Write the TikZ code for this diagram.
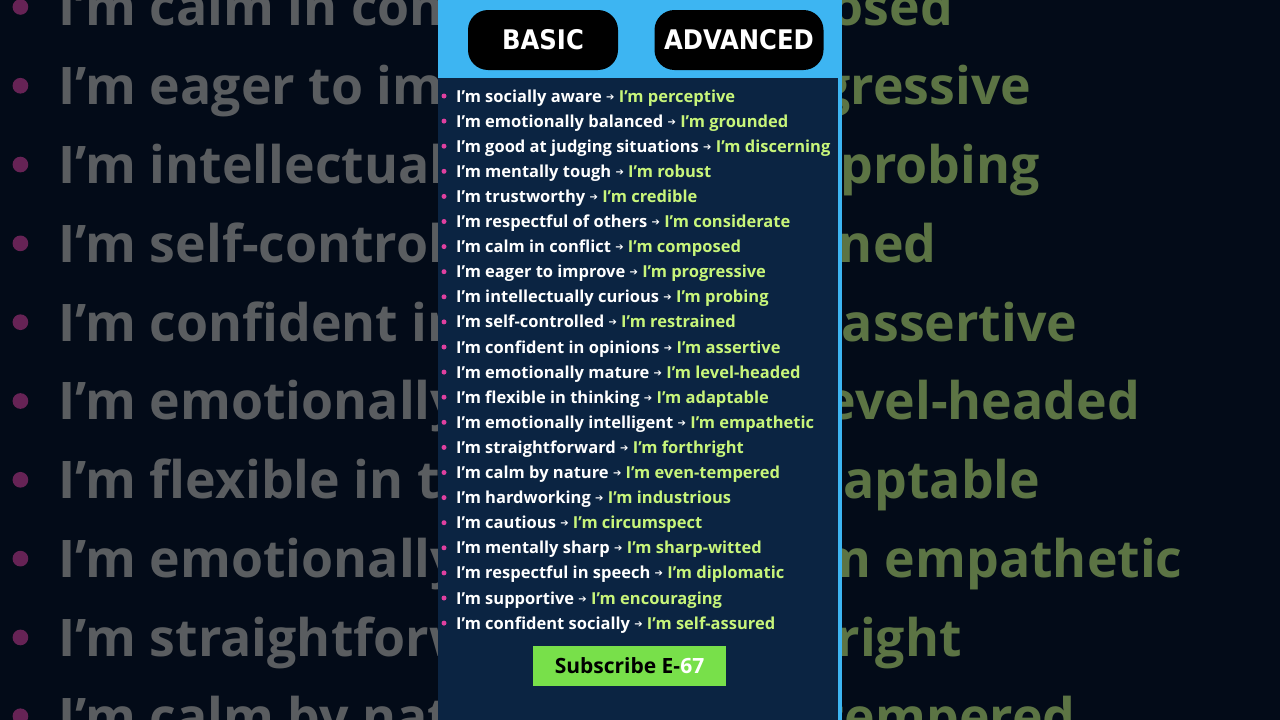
\documentclass[tikz,border=0pt]{standalone}
\usepackage{fontspec}
\setmainfont{Open Sans}
\newfontfamily\headfont{DejaVu Sans Condensed}
\newfontfamily\arrfont{DejaVu Sans}
\definecolor{bgdark}{HTML}{030B18}
\definecolor{navy}{HTML}{0B2442}
\definecolor{skyblue}{HTML}{3DB5F2}
\definecolor{pinkdot}{HTML}{E040A0}
\definecolor{advgreen}{HTML}{C8F57A}
\definecolor{subgreen}{HTML}{78E04A}
\tikzset{
  row/.style={anchor=base west, inner sep=0pt, font=\bfseries\fontsize{16.5}{18}\selectfont},
  dot/.style={circle, fill=#1, inner sep=0pt, minimum size=5pt},
  pill/.style={rounded corners=20pt, fill=black, minimum height=60pt,
    text=white, font=\headfont\bfseries\fontsize{27}{30}\selectfont}
}
% the list, in colours #1 (basic), #2 (advanced), #3 (bullet)
\newcommand\wordlist[4]{%
  \foreach \b/\a [count=\i] in {%
    {I’m socially aware}/{I’m perceptive},
    {I’m emotionally balanced}/{I’m grounded},
    {I’m good at judging situations}/{I’m discerning},
    {I’m mentally tough}/{I’m robust},
    {I’m trustworthy}/{I’m credible},
    {I’m respectful of others}/{I’m considerate},
    {I’m calm in conflict}/{I’m composed},
    {I’m eager to improve}/{I’m progressive},
    {I’m intellectually curious}/{I’m probing},
    {I’m self-controlled}/{I’m restrained},
    {I’m confident in opinions}/{I’m assertive},
    {I’m emotionally mature}/{I’m level-headed},
    {I’m flexible in thinking}/{I’m adaptable},
    {I’m emotionally intelligent}/{I’m empathetic},
    {I’m straightforward}/{I’m forthright},
    {I’m calm by nature}/{I’m even-tempered},
    {I’m hardworking}/{I’m industrious},
    {I’m cautious}/{I’m circumspect},
    {I’m mentally sharp}/{I’m sharp-witted},
    {I’m respectful in speech}/{I’m diplomatic},
    {I’m supportive}/{I’m encouraging},
    {I’m confident socially}/{I’m self-assured}}{
    \node[dot=#3] (#4b\i) at (444pt,{-96pt-(\i-1)*25.1pt}) {};
    \node[row] (#4r\i) at (456pt,{-102pt-(\i-1)*25.1pt})
      {\color{#1}\b~\raisebox{2pt}{\arrfont\fontsize{10}{10}\selectfont➔}~\color{#2}\a};
  }%
}
\begin{document}
\begin{tikzpicture}
  \useasboundingbox (0pt,0pt) rectangle (1280pt,-720pt);
  \fill[bgdark] (0pt,0pt) rectangle (1280pt,-720pt);

  % enlarged copy behind
  \begin{scope}
  \clip (0pt,0pt) rectangle (1280pt,-720pt);
  \begin{scope}[shift={(-1373.75pt,767.4pt)}, scale=3.14, transform shape]
    \wordlist{gray!70!bgdark}{advgreen!45!bgdark}{pinkdot!45!bgdark}{bg}
  \end{scope}
  \end{scope}

  % panel
  \fill[navy] (438pt,-78pt) rectangle (838pt,-720pt);
  \fill[skyblue] (838pt,-78pt) rectangle (842pt,-720pt);
  \fill[skyblue] (438pt,0pt) rectangle (842pt,-78pt);
  \node[pill, minimum width=150pt] (basic) at (543pt,-40pt) {BASIC};
  \node[pill, minimum width=169pt] (advanced) at (739pt,-40pt) {ADVANCED};

  \wordlist{white}{advgreen}{pinkdot}{fg}

  \node[fill=subgreen, minimum width=193pt, minimum height=40pt,
    font=\bfseries\fontsize{21}{24}\selectfont] (subscribe) at (629.5pt,-666pt)
    {Subscribe E-\textcolor{white}{67}};
\end{tikzpicture}
\end{document}
